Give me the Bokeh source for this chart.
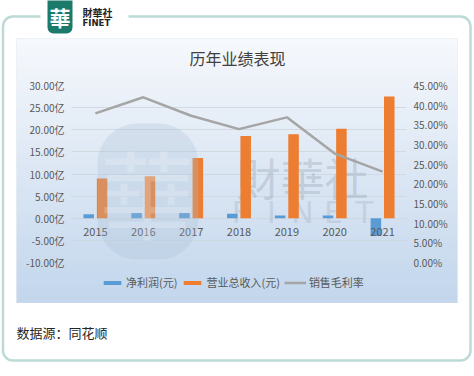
from bokeh.plotting import figure
from bokeh.layouts import column
from bokeh.models import (Range1d, LinearAxis, FixedTicker, FactorRange, ColumnDataSource,
                          BoxAnnotation, Label, Legend, LegendItem)
from bokeh.transform import dodge
from bokeh.core.properties import value
from bokeh.embed import file_html
from bokeh.resources import INLINE

# ---------------- data ----------------
years = ["2015", "2016", "2017", "2018", "2019", "2020", "2021"]
net_profit = [0.9, 1.2, 1.2, 1.0, 0.6, 0.6, -4.0]          # 亿
revenue = [9.0, 9.5, 13.6, 18.6, 19.0, 20.2, 27.5]          # 亿
gross_margin = [37.9, 42.0, 37.3, 33.9, 36.9, 27.7, 23.1]   # %
left_ticks = [-10, -5, 0, 5, 10, 15, 20, 25, 30]
left_labels = ["-10.00亿", "-5.00亿", "0.00亿", "5.00亿", "10.00亿", "15.00亿", "20.00亿", "25.00亿", "30.00亿"]
right_ticks = [0, 5, 10, 15, 20, 25, 30, 35, 40, 45]
right_labels = ["0.00%", "5.00%", "10.00%", "15.00%", "20.00%", "25.00%", "30.00%", "35.00%", "40.00%", "45.00%"]
title_text = "历年业绩表现"
legend_labels = ["净利润(元)", "营业总收入(元)", "销售毛利率"]
source_text = "数据源：同花顺"

CJK = "Noto Sans CJK SC"
TC = "Noto Sans CJK TC"
W, H = 472, 372
FL, FR, FT, FB = 71, 406, 85, 262  # plot frame in page px
BLUE, ORANGE, GRAY = "#5b9bd5", "#ed7d31", "#a5a5a5"
NAN = float("nan")

# ================= background figure (decoration, canvas px coords) =================
bg = figure(width=W, height=H, output_backend="svg", toolbar_location=None, title=None,
            x_range=Range1d(0, W), y_range=Range1d(H, 0),
            x_axis_location=None, y_axis_location=None, min_border=0)
bg.frame_align = False
bg.grid.visible = False
bg.outline_line_color = None
bg.background_fill_color = "white"
bg.border_fill_color = "white"

# panel gradient
top_c = (246, 248, 252)
bot_c = (194, 214, 236)
px0, px1, py0, py1 = 16, 457, 38, 302
n = 44
step = (py1 - py0) / n
g_l, g_r, g_t, g_b, g_c = [], [], [], [], []
for i in range(n):
    t = (i + 0.5) / n
    c = tuple(int(round(top_c[k] + (bot_c[k] - top_c[k]) * t)) for k in range(3))
    g_l.append(px0); g_r.append(px1)
    g_t.append(py0 + i * step); g_b.append(py0 + (i + 1) * step + 0.5)
    g_c.append("#%02x%02x%02x" % c)
bg.quad(left=g_l, right=g_r, top=g_t, bottom=g_b, fill_color=g_c, line_color=None)
bg.add_layout(BoxAnnotation(left=px0, right=px1, top=py0, bottom=py1, fill_alpha=0,
                            fill_color=None, line_color="#d6dde6", line_width=1))

# outer frame with logo
bg.add_layout(BoxAnnotation(left=2.5, right=470, top=16, bottom=360, fill_alpha=0, fill_color=None,
                            line_color="#22897a", line_width=2.5, border_radius=10))
bg.add_layout(BoxAnnotation(left=40, right=128, top=11, bottom=21, fill_color="white",
                            fill_alpha=1, line_color=None))
bg.add_layout(BoxAnnotation(left=47, right=72, top=-6, bottom=33, fill_color="#1c7a6b",
                            fill_alpha=1, line_color=None, border_radius=6))
bg.add_layout(Label(x=59.5, y=16, text="華", text_font=TC, text_font_size="21px",
                    text_color="white", text_align="center", text_baseline="middle",
                    text_font_style="bold"))
bg.add_layout(Label(x=82, y=12, text="財華社", text_font=TC, text_font_size="10px",
                    text_color="#222222", text_align="left", text_baseline="middle",
                    text_font_style="bold"))
bg.add_layout(Label(x=82, y=22.5, text="FINET", text_font="DejaVu Sans", text_font_size="8.5px",
                    text_color="#222222", text_align="left", text_baseline="middle",
                    text_font_style="bold"))

# title
bg.add_layout(Label(x=237, y=57, text=title_text, text_font=CJK, text_font_size="16px",
                    text_color="#404040", text_align="center", text_baseline="middle"))
# footer
bg.add_layout(Label(x=16, y=332, text=source_text, text_font=CJK, text_font_size="13px",
                    text_color="#262626", text_align="left", text_baseline="middle"))

# legend (swatches styled like the series; proxies hold a single NaN so they draw nothing)
lg_blue = bg.vbar(x=[NAN], top=[NAN], width=1, fill_color=BLUE, line_color=None)
lg_orange = bg.vbar(x=[NAN], top=[NAN], width=1, fill_color=ORANGE, line_color=None)
lg_line = bg.line(x=[NAN], y=[NAN], line_color=GRAY, line_width=2.5)
legend = Legend(items=[LegendItem(label=legend_labels[0], renderers=[lg_blue]),
                       LegendItem(label=legend_labels[1], renderers=[lg_orange]),
                       LegendItem(label=legend_labels[2], renderers=[lg_line])],
                location=(101, H - 290), orientation="horizontal", glyph_width=22, glyph_height=5,
                label_standoff=3, spacing=4, padding=0, margin=0, border_line_color=None,
                background_fill_alpha=0, label_text_font=CJK, label_text_font_size="11px",
                label_text_color="#595959", label_height=14)
bg.add_layout(legend, "center")

# ================= foreground figure (the chart) =================
src = ColumnDataSource(dict(year=years, net=net_profit, rev=revenue, gm=gross_margin,
                            zero=[0] * len(years)))

p = figure(width=W, height=H, output_backend="svg", toolbar_location=None,
           x_range=FactorRange(factors=years, range_padding=0),
           y_range=Range1d(left_ticks[0], left_ticks[-1]), x_axis_location=None,
           y_axis_location=None, min_border_left=FL, min_border_right=W - FR,
           min_border_top=FT, min_border_bottom=H - FB)
p.frame_align = False
p.extra_y_ranges = {"pct": Range1d(right_ticks[0], right_ticks[-1])}
p.background_fill_color = None
p.background_fill_alpha = 0
p.border_fill_color = None
p.border_fill_alpha = 0
p.outline_line_color = None
p.xgrid.visible = False
p.ygrid.ticker = FixedTicker(ticks=left_ticks)
p.ygrid.grid_line_color = "#cdd5de"
p.ygrid.grid_line_alpha = 0.8

la = LinearAxis(ticker=FixedTicker(ticks=left_ticks),
                major_label_overrides={t: s for t, s in zip(left_ticks, left_labels)})
ra = LinearAxis(y_range_name="pct", ticker=FixedTicker(ticks=right_ticks),
                major_label_overrides={t: s for t, s in zip(right_ticks, right_labels)})
for ax in (la, ra):
    ax.axis_line_color = None
    ax.major_tick_line_color = None
    ax.minor_tick_line_color = None
    ax.major_tick_out = 0
    ax.major_label_standoff = 7
    ax.major_label_text_font = CJK
    ax.major_label_text_font_size = "10px"
    ax.major_label_text_color = "#595959"
p.add_layout(la, "left")
p.add_layout(ra, "right")

# watermark text behind bars
p.add_layout(Label(x=302 - FL, y=FB - 176, x_units="screen", y_units="screen", text="財華社",
                   text_font=TC, text_font_size="44px", text_color="#8593a1", text_alpha=0.3,
                   text_align="center", text_baseline="middle", level="underlay"))
for i, ch in enumerate("FINET"):
    p.add_layout(Label(x=240 + i * 31 - FL, y=FB - 212, x_units="screen", y_units="screen",
                       text=ch, text_font="DejaVu Sans", text_font_size="30px",
                       text_color="#8593a1", text_alpha=0.22, text_align="center",
                       text_baseline="middle", level="underlay"))

r_blue = p.vbar(x=dodge("year", -0.14, range=p.x_range), top="net", bottom=0, width=0.22,
                source=src, fill_color=BLUE, line_color=None)
r_orange = p.vbar(x=dodge("year", 0.14, range=p.x_range), top="rev", bottom=0, width=0.22,
                  source=src, fill_color=ORANGE, line_color=None)
r_line = p.line(x="year", y="gm", source=src, y_range_name="pct", line_color=GRAY,
                line_width=2.5)

# logo watermark over the bars
p.add_layout(BoxAnnotation(left=97 - FL, right=198 - FL, top=FB - 123, bottom=FB - 259,
                           left_units="screen", right_units="screen", top_units="screen",
                           bottom_units="screen", fill_color="#a8bfd4", fill_alpha=0.28,
                           line_color=None, border_radius=40, level="overlay"))
p.add_layout(Label(x=147 - FL, y=FB - 190, x_units="screen", y_units="screen", text="華",
                   text_font=TC, text_font_size="96px", text_color="white", text_alpha=0.2,
                   text_align="center", text_baseline="middle", level="overlay"))

p.text(x="year", y="zero", text="year", source=src, y_offset=14, text_align="center",
       text_baseline="middle", text_font=value(CJK), text_font_size="11px", text_color="#595959")

p.styles = {"margin-top": f"-{H}px"}

layout = column(bg, p)
open("out.html", "w").write(file_html(layout, INLINE))
